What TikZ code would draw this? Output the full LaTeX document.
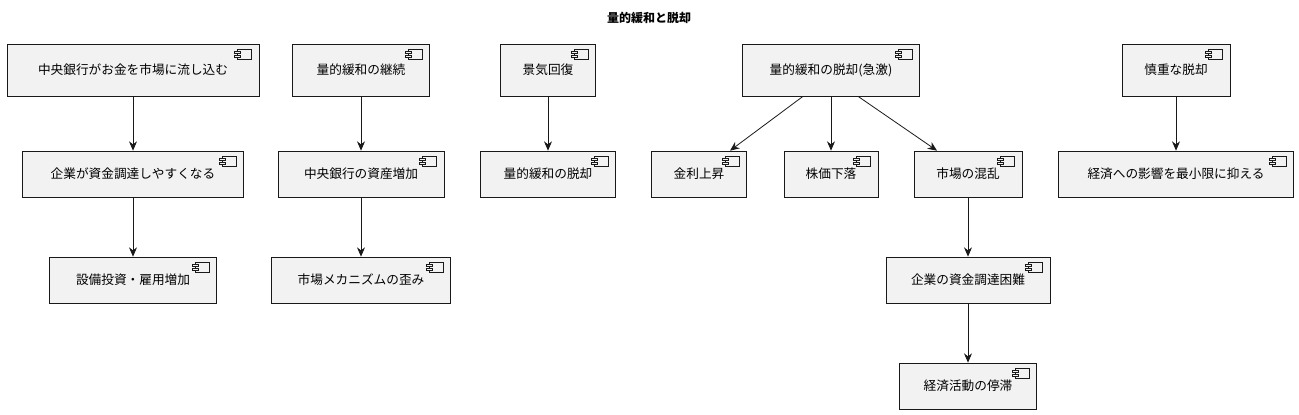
\documentclass[tikz,border=0pt]{standalone}
\usepackage{fontspec}
\setmainfont{Noto Sans CJK JP}
\usetikzlibrary{arrows.meta,calc}
\begin{document}
\begin{tikzpicture}[x=0.75pt,y=-0.75pt,
  comp/.style={draw=black!90,fill=black!5,line width=0.5pt,inner sep=0pt,font=\fontsize{9.5pt}{11pt}\selectfont,text=black},
  link/.style={draw=black!90,line width=0.6pt,-{Stealth[length=7pt,width=6pt]}}]
\useasboundingbox (0,0) rectangle (1299,414);
\node[font=\bfseries\fontsize{9pt}{11pt}\selectfont] (title) at (649,18) {量的緩和と脱却};
\newcommand{\cmp}[6]{\node[comp,minimum width=#4*0.75pt,minimum height=#5*0.75pt] (#1) at (#2,#3) {#6};}
\cmp{a1}{133}{70}{252}{52}{中央銀行がお金を市場に流し込む}
\cmp{a2}{133}{174}{221}{46}{企業が資金調達しやすくなる}
\cmp{a3}{133}{280}{167}{46}{設備投資・雇用増加}
\cmp{b1}{361}{70}{137}{52}{量的緩和の継続}
\cmp{b2}{361}{174}{166}{46}{中央銀行の資産増加}
\cmp{b3}{361}{280}{179}{46}{市場メカニズムの歪み}
\cmp{c1}{548}{70}{95}{52}{景気回復}
\cmp{c2}{548}{174}{135}{46}{量的緩和の脱却}
\cmp{d1}{831}{70}{177}{52}{量的緩和の脱却(急激)}
\cmp{d2}{699}{174}{95}{46}{金利上昇}
\cmp{d3}{831}{174}{94}{46}{株価下落}
\cmp{d4}{968}{174}{108}{46}{市場の混乱}
\cmp{d5}{968}{280}{164}{46}{企業の資金調達困難}
\cmp{d6}{968}{386}{137}{46}{経済活動の停滞}
\cmp{e1}{1176}{70}{108}{52}{慎重な脱却}
\cmp{e2}{1176}{174}{235}{46}{経済への影響を最小限に抑える}
\foreach \n in {a1,a2,a3,b1,b2,b3,c1,c2,d1,d2,d3,d4,d5,d6,e1,e2}{
  \draw[black!90,fill=black!5,line width=0.4pt] ($(\n.north east)+(-22,6)$) rectangle ($(\n.north east)+(-8,16)$);
  \draw[black!90,fill=black!5,line width=0.4pt] ($(\n.north east)+(-25,8)$) rectangle ($(\n.north east)+(-19,10)$);
  \draw[black!90,fill=black!5,line width=0.4pt] ($(\n.north east)+(-25,12)$) rectangle ($(\n.north east)+(-19,14)$);
}
\draw[link] (a1) -- (a2); \draw[link] (a2) -- (a3);
\draw[link] (b1) -- (b2); \draw[link] (b2) -- (b3);
\draw[link] (c1) -- (c2);
\draw[link] ($(d1.south)+(-28,0)$) -- ($(d2.north)+(31,0)$);
\draw[link] (d1) -- (d3);
\draw[link] ($(d1.south)+(27,0)$) -- ($(d4.north)+(-31,0)$);
\draw[link] (d4) -- (d5); \draw[link] (d5) -- (d6);
\draw[link] (e1) -- (e2);
\end{tikzpicture}
\end{document}
